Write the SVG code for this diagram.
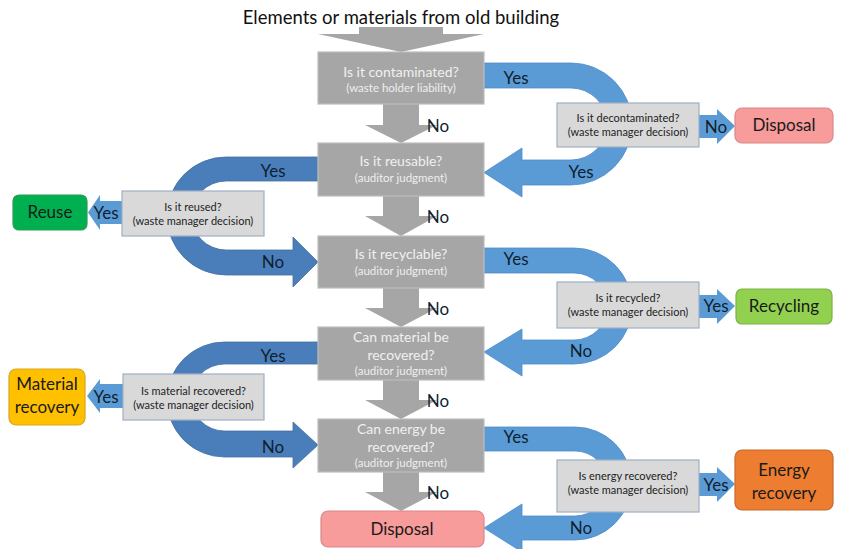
<svg xmlns="http://www.w3.org/2000/svg" width="842" height="549" viewBox="0 0 842 549">
<style>
text{font-family:Lato,"Liberation Sans",sans-serif}
.title{font-size:18.5px;fill:#111}
.q{fill:#a6a6a6;stroke:#bdbdbd;stroke-width:1.2}
.qt{font-size:14px;fill:#f0f0f0;text-anchor:middle}
.qs{font-size:11.5px;fill:#eeeeee;text-anchor:middle}
.d{fill:#d9d9d9;stroke:#9fb0c4;stroke-width:1.2}
.dt{font-size:11px;fill:#222;text-anchor:middle}
.down{fill:#a6a6a6}
.ur{fill:#5b9bd5;stroke:#4f8cc8;stroke-width:0.8}
.ul{fill:#4a7ebb;stroke:#41709f;stroke-width:0.8}
.sa{fill:#5b9bd5}
.lb{font-size:17px;fill:#0f1e2e;text-anchor:middle}
.ot{font-size:17px;fill:#1a1a1a;text-anchor:middle}
</style>
<text class="title" x="401" y="24" text-anchor="middle">Elements or materials from old building</text>
<g id="connectors">
<polygon class="down" points="359,27 443,27 443,34 484,34 401,52 318,34 359,34"/>
<polygon class="down" points="383,104 419,104 419,125 437,125 401,143 365,125 383,125"/>
<polygon class="down" points="383,196 419,196 419,216 437,216 401,236 365,216 383,216"/>
<polygon class="down" points="383,288 419,288 419,308 437,308 401,327 365,308 383,308"/>
<polygon class="down" points="383,380 419,380 419,400 437,400 401,419 365,400 383,400"/>
<polygon class="down" points="383,472 419,472 419,492 437,492 401,511 365,492 383,492"/>
<path class="ur" d="M480 63 H571 A61 61 0 0 1 571 185 H522 V197 L484 172.5 L522 148 V160 H571 A36 36 0 0 0 571 88 H480 Z"/>
<path class="ur" d="M480 248 H574 A58 58 0 0 1 574 364 H522 V376 L484 352 L522 329 V340 H574 A33.5 33.5 0 0 0 574 273 H480 Z"/>
<path class="ur" d="M480 427 H575 A56.5 56.5 0 0 1 575 540 H522 V552 L484 528 L522 504 V516 H575 A32.5 32.5 0 0 0 575 451 H480 Z"/>
<path class="ul" d="M322 157 H226 A59 59 0 0 0 226 275 H293 V287 L318 262 L293 237 V250 H226 A34.5 34.5 0 0 1 226 181 H322 Z"/>
<path class="ul" d="M322 342 H224.5 A57.5 57.5 0 0 0 224.5 457 H293 V468 L318 445 L293 422 V431 H224.5 A33.5 33.5 0 0 1 224.5 364 H322 Z"/>
<polygon class="sa" points="699,115 717,115 717,109 735,126 717,144 717,138 699,138"/>
<polygon class="sa" points="699,295 717,295 717,289 735,306 717,324 717,318 699,318"/>
<polygon class="sa" points="699,473 717,473 717,467 735,484 717,502 717,496 699,496"/>
<polygon class="sa" points="122,201 100,201 100,195 88,212.5 100,230 100,224 122,224"/>
<polygon class="sa" points="123,384 100,384 100,379 87,396 100,413 100,408 123,408"/>
<text class="lb" x="438" y="132">No</text>
<text class="lb" x="438" y="223">No</text>
<text class="lb" x="438" y="315">No</text>
<text class="lb" x="438" y="407">No</text>
<text class="lb" x="438" y="499">No</text>
<text class="lb" x="516" y="84">Yes</text>
<text class="lb" x="581" y="178">Yes</text>
<text class="lb" x="516" y="265">Yes</text>
<text class="lb" x="581" y="357">No</text>
<text class="lb" x="516" y="443">Yes</text>
<text class="lb" x="581" y="534">No</text>
<text class="lb" x="273" y="177">Yes</text>
<text class="lb" x="273" y="268">No</text>
<text class="lb" x="273" y="362">Yes</text>
<text class="lb" x="273" y="453">No</text>
<text class="lb" x="716" y="133">No</text>
<text class="lb" x="716" y="312">Yes</text>
<text class="lb" x="716" y="491">Yes</text>
<text class="lb" x="106" y="219">Yes</text>
<text class="lb" x="106" y="403">Yes</text>
</g>
<g id="q1"><rect class="q" x="318" y="52" width="166" height="52"/><text class="qt" x="401" y="77">Is it contaminated?</text><text class="qs" x="401" y="92">(waste holder liability)</text></g>
<g id="q2"><rect class="q" x="318" y="143" width="166" height="53"/><text class="qt" x="401" y="166">Is it reusable?</text><text class="qs" x="401" y="182">(auditor judgment)</text></g>
<g id="q3"><rect class="q" x="318" y="236" width="166" height="52"/><text class="qt" x="401" y="259">Is it recyclable?</text><text class="qs" x="401" y="275">(auditor judgment)</text></g>
<g id="q4"><rect class="q" x="318" y="327" width="166" height="53"/><text class="qt" x="401" y="342">Can material be</text><text class="qt" x="401" y="360">recovered?</text><text class="qs" x="401" y="375">(auditor judgment)</text></g>
<g id="q5"><rect class="q" x="318" y="419" width="166" height="53"/><text class="qt" x="401" y="434">Can energy be</text><text class="qt" x="401" y="452">recovered?</text><text class="qs" x="401" y="467">(auditor judgment)</text></g>
<g id="d1"><rect class="d" x="557" y="103" width="142" height="44"/><text class="dt" x="628" y="122">Is it decontaminated?</text><text class="dt" x="628" y="136">(waste manager decision)</text></g>
<g id="d2"><rect class="d" x="122" y="191" width="142" height="45"/><text class="dt" x="193" y="211">Is it reused?</text><text class="dt" x="193" y="225">(waste manager decision)</text></g>
<g id="d3"><rect class="d" x="557" y="282" width="142" height="46"/><text class="dt" x="628" y="302">Is it recycled?</text><text class="dt" x="628" y="316">(waste manager decision)</text></g>
<g id="d4"><rect class="d" x="123" y="374" width="141" height="46"/><text class="dt" x="193.5" y="395">Is material recovered?</text><text class="dt" x="193.5" y="409">(waste manager decision)</text></g>
<g id="d5"><rect class="d" x="557" y="460" width="142" height="52"/><text class="dt" x="628" y="480">Is energy recovered?</text><text class="dt" x="628" y="494">(waste manager decision)</text></g>
<g id="disposal1"><rect x="735" y="108" width="98" height="35" rx="7" fill="#f79b9b" stroke="#d98888" stroke-width="1.2"/><text class="ot" x="784" y="131">Disposal</text></g>
<g id="reuse"><rect x="13" y="195" width="74" height="35" rx="6" fill="#00b050" stroke="#2e9a55" stroke-width="1.2"/><text class="ot" x="50" y="218">Reuse</text></g>
<g id="recycling"><rect x="736" y="289" width="96" height="35" rx="6" fill="#92d050" stroke="#7ab344" stroke-width="1.2"/><text class="ot" x="784" y="312">Recycling</text></g>
<g id="material"><rect x="9" y="369" width="76" height="56" rx="7" fill="#ffc000" stroke="#d9a520" stroke-width="1.2"/><text class="ot" x="47" y="390">Material</text><text class="ot" x="47" y="413">recovery</text></g>
<g id="energy"><rect x="735" y="450" width="98" height="60" rx="7" fill="#ed7d31" stroke="#c9692b" stroke-width="1.2"/><text class="ot" x="784" y="476">Energy</text><text class="ot" x="784" y="499">recovery</text></g>
<g id="disposal2"><rect x="321" y="511" width="163" height="36" rx="7" fill="#f79b9b" stroke="#d98888" stroke-width="1.2"/><text class="ot" x="402" y="535">Disposal</text></g>
</svg>
